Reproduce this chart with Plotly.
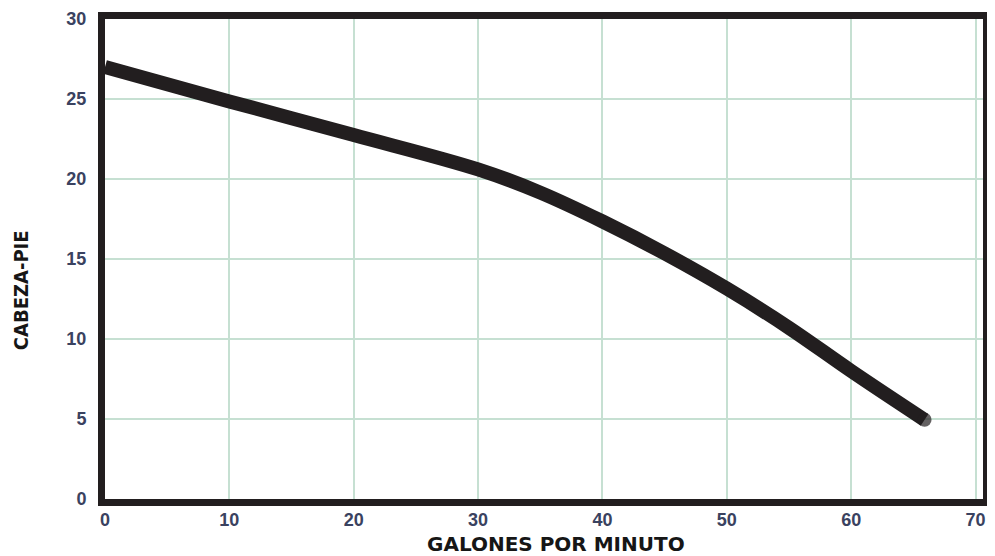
import plotly.graph_objects as go

gpm = [0, 10, 20, 30, 35, 40, 45, 50, 55, 60, 65.9]
head_ft = [27.0, 24.85, 22.75, 20.6, 19.15, 17.35, 15.35, 13.15, 10.7, 8.0, 4.95]
x_ticks = [0, 10, 20, 30, 40, 50, 60, 70]
y_ticks = [0, 5, 10, 15, 20, 25, 30]
x_title = "GALONES POR MINUTO"
y_title = "CABEZA-PIE"

line_col = "#221e1f"
grid_col = "#c6e0d2"
tick_font = dict(family="Liberation Sans, Arial, sans-serif", size=18, color="#3a4260", weight="bold")
xtitle_font = dict(family="DejaVu Sans, sans-serif", size=20, color="#161616", weight="bold")
ytitle_font = dict(family="DejaVu Sans Condensed, Liberation Sans Narrow, Liberation Sans, sans-serif",
                   size=20, color="#161616", weight="bold")

sizes = [0] * (len(gpm) - 1) + [14]

fig = go.Figure()
fig.add_trace(go.Scatter(
    x=gpm, y=head_ft, mode="lines+markers",
    line=dict(color=line_col, width=14, shape="spline", smoothing=1.0),
    marker=dict(size=sizes, color=line_col, line=dict(width=0)),
    hoverinfo="skip", showlegend=False,
))

fig.update_layout(
    width=995, height=556,
    margin=dict(l=96.5, r=19.5, t=10.5, b=64.5),
    paper_bgcolor="white", plot_bgcolor="white",
    xaxis=dict(
        range=[0, 70.6], tickvals=x_ticks, ticktext=[str(v) for v in x_ticks],
        showgrid=True, gridcolor=grid_col, gridwidth=2,
        showline=True, linecolor=line_col, linewidth=7, mirror=True,
        zeroline=False, ticks="", tickfont=tick_font, ticklabelstandoff=-2,
        automargin=False,
    ),
    yaxis=dict(
        range=[0, 30], tickvals=y_ticks, ticktext=[str(v) for v in y_ticks],
        showgrid=True, gridcolor=grid_col, gridwidth=2,
        showline=True, linecolor=line_col, linewidth=7, mirror=True,
        zeroline=False, ticks="", tickfont=tick_font, ticklabelstandoff=8,
        automargin=False,
    ),
    annotations=[
        dict(text=x_title, xref="paper", yref="paper", x=0.514, y=0, yshift=-45,
             xanchor="center", yanchor="middle", showarrow=False, font=xtitle_font),
        dict(text=y_title, xref="paper", yref="paper", x=0, y=0.435, xshift=-84,
             xanchor="center", yanchor="middle", textangle=-90, showarrow=False, font=ytitle_font),
    ],
)

fig.write_html("out.html")
